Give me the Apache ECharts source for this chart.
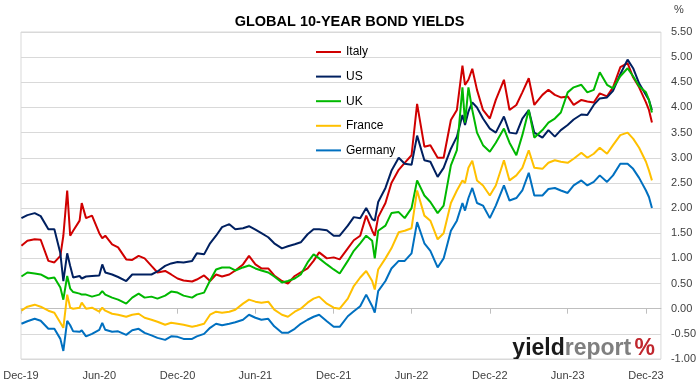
<!DOCTYPE html>
<html>
<head>
<meta charset="utf-8">
<script src="https://cdn.jsdelivr.net/npm/echarts@6/dist/echarts.min.js"></script>
<style>html,body{margin:0;padding:0;background:#fff;}#c{width:699px;height:384px;}</style>
</head>
<body>
<div id="c"></div>
<script>
const dates = [
  '2019-12-02','2019-12-16',
  '2020-01-02','2020-01-16','2020-02-03','2020-02-17','2020-03-02','2020-03-09','2020-03-18','2020-03-25',
  '2020-04-01','2020-04-16','2020-04-21','2020-05-01','2020-05-15','2020-06-01','2020-06-08','2020-06-15',
  '2020-07-01','2020-07-15','2020-08-03','2020-08-17','2020-09-01','2020-09-15','2020-10-01','2020-10-15',
  '2020-11-02','2020-11-16','2020-12-01','2020-12-15',
  '2021-01-04','2021-01-15','2021-02-01','2021-02-15','2021-03-01','2021-03-15','2021-04-01','2021-04-15',
  '2021-05-03','2021-05-17','2021-06-01','2021-06-15','2021-07-01','2021-07-15','2021-08-02','2021-08-16',
  '2021-09-01','2021-09-15','2021-10-01','2021-10-15','2021-10-28','2021-11-15','2021-12-01','2021-12-15',
  '2022-01-03','2022-01-17','2022-02-01','2022-02-15','2022-03-01','2022-03-07','2022-03-15','2022-04-01',
  '2022-04-15','2022-05-02','2022-05-16','2022-06-01','2022-06-14','2022-07-01','2022-07-15','2022-08-01',
  '2022-08-15','2022-09-01','2022-09-15','2022-09-28','2022-10-04','2022-10-12','2022-10-21','2022-11-01',
  '2022-11-15','2022-12-01','2022-12-15',
  '2023-01-03','2023-01-16','2023-02-01','2023-02-15','2023-03-02','2023-03-15','2023-04-03','2023-04-17',
  '2023-05-02','2023-05-16','2023-06-01','2023-06-15','2023-07-03','2023-07-17','2023-08-01','2023-08-15',
  '2023-09-01','2023-09-15','2023-10-02','2023-10-19','2023-11-01','2023-11-15','2023-12-01','2023-12-08',
  '2023-12-15'
];
const italy = [
  1.25,1.35,
  1.38,1.37,0.95,0.92,1.05,1.45,2.35,1.45,1.55,1.75,2.10,1.80,1.85,1.50,1.40,1.45,
  1.28,1.22,0.98,0.97,1.05,1.00,0.85,0.72,0.75,0.68,0.60,0.56,
  0.54,0.58,0.66,0.55,0.68,0.64,0.68,0.76,0.88,1.05,0.88,0.80,0.80,0.66,0.55,0.50,
  0.65,0.72,0.80,0.95,1.12,1.00,1.02,0.98,
  1.20,1.36,1.45,1.85,1.55,1.45,1.82,2.10,2.50,2.76,2.90,3.05,4.07,3.22,3.25,3.00,
  3.00,3.75,3.95,4.83,4.45,4.55,4.77,4.35,3.95,3.78,4.15,
  4.55,3.95,4.05,4.30,4.58,4.05,4.25,4.35,4.25,4.20,4.22,4.05,4.15,4.12,4.10,4.28,
  4.22,4.40,4.80,4.88,4.60,4.40,4.10,3.95,3.70
];
const us = [
  1.80,1.86,
  1.90,1.84,1.58,1.58,1.10,0.55,1.10,0.85,0.62,0.65,0.60,0.64,0.65,0.66,0.88,0.72,
  0.68,0.63,0.55,0.68,0.68,0.68,0.68,0.74,0.85,0.90,0.93,0.92,
  0.95,1.10,1.08,1.30,1.45,1.62,1.68,1.58,1.60,1.64,1.57,1.50,1.42,1.30,1.20,1.24,
  1.28,1.32,1.48,1.58,1.58,1.56,1.45,1.45,
  1.65,1.82,1.80,2.00,1.78,1.75,2.12,2.40,2.74,3.00,2.88,2.86,3.44,2.95,2.92,2.62,
  2.80,3.18,3.42,3.85,3.65,3.92,4.10,4.00,3.78,3.58,3.50,
  3.82,3.50,3.48,3.78,3.95,3.50,3.40,3.55,3.42,3.55,3.65,3.76,3.86,3.85,4.05,4.18,
  4.20,4.33,4.66,4.95,4.78,4.48,4.25,4.15,3.95
];
const uk = [
  0.64,0.72,
  0.70,0.68,0.60,0.62,0.42,0.18,0.65,0.40,0.33,0.30,0.28,0.28,0.24,0.28,0.35,0.28,
  0.22,0.18,0.10,0.22,0.30,0.22,0.24,0.20,0.26,0.34,0.32,0.26,
  0.22,0.28,0.32,0.56,0.78,0.82,0.82,0.76,0.82,0.86,0.80,0.76,0.72,0.64,0.52,0.55,
  0.60,0.68,0.92,1.08,1.00,0.88,0.78,0.70,
  0.95,1.15,1.30,1.45,1.35,1.00,1.55,1.65,1.90,1.92,1.80,2.00,2.55,2.25,2.12,1.90,
  2.05,2.85,3.15,4.40,3.70,4.40,3.95,3.50,3.25,3.12,3.30,
  3.58,3.30,3.05,3.45,3.95,3.40,3.55,3.70,3.78,3.90,4.30,4.40,4.45,4.30,4.35,4.70,
  4.45,4.38,4.62,4.78,4.62,4.42,4.30,4.15,3.90
];
const france = [
  -0.04,0.04,
  0.08,0.04,-0.04,-0.08,-0.28,-0.38,0.28,0.02,0.00,0.02,0.12,0.00,0.02,-0.06,0.02,-0.04,
  -0.10,-0.12,-0.16,-0.12,-0.10,-0.18,-0.22,-0.26,-0.32,-0.28,-0.30,-0.32,
  -0.36,-0.34,-0.30,-0.12,-0.06,-0.08,-0.06,-0.02,0.10,0.18,0.14,0.12,0.14,-0.02,-0.12,-0.16,
  -0.06,0.00,0.12,0.20,0.24,0.10,0.02,0.00,
  0.20,0.45,0.62,0.75,0.55,0.38,0.78,1.00,1.20,1.52,1.55,1.60,2.35,1.85,1.75,1.38,
  1.50,2.10,2.35,2.55,2.50,2.80,2.94,2.55,2.45,2.25,2.45,
  2.95,2.55,2.65,2.80,3.15,2.80,2.78,2.90,2.95,2.92,2.90,2.98,3.10,3.00,3.08,3.20,
  3.08,3.25,3.45,3.50,3.38,3.20,2.92,2.75,2.55
];
const germany = [
  -0.30,-0.25,
  -0.20,-0.24,-0.40,-0.40,-0.60,-0.84,-0.24,-0.33,-0.45,-0.46,-0.43,-0.55,-0.50,-0.42,-0.28,-0.42,
  -0.46,-0.45,-0.52,-0.43,-0.40,-0.48,-0.53,-0.58,-0.62,-0.55,-0.56,-0.60,
  -0.60,-0.55,-0.50,-0.38,-0.30,-0.33,-0.30,-0.27,-0.22,-0.12,-0.18,-0.22,-0.20,-0.35,-0.48,-0.48,
  -0.40,-0.30,-0.22,-0.16,-0.12,-0.25,-0.36,-0.36,
  -0.15,-0.05,0.05,0.28,0.05,-0.08,0.35,0.55,0.80,0.95,0.95,1.10,1.72,1.30,1.15,0.82,
  1.00,1.55,1.75,2.10,1.95,2.20,2.40,2.10,2.05,1.80,2.05,
  2.45,2.15,2.20,2.35,2.70,2.25,2.25,2.38,2.40,2.35,2.30,2.45,2.55,2.45,2.52,2.65,
  2.52,2.65,2.88,2.88,2.78,2.60,2.35,2.22,2.00
];
const seriesNames = ['Italy','US','UK','France','Germany'];
const seriesColors = ['#D00000','#002060','#00B800','#FFC000','#0070C0'];
const tickDates = ['2019-12-01','2020-06-01','2020-12-01','2021-06-01','2021-12-01','2022-06-01','2022-12-01','2023-06-01','2023-12-01'];
const months = ['Jan','Feb','Mar','Apr','May','Jun','Jul','Aug','Sep','Oct','Nov','Dec'];

const allData = [italy, us, uk, france, germany];
const toTs = d => +new Date(d + 'T00:00:00Z');
const tickTs = tickDates.map(toTs);

const chart = echarts.init(document.getElementById('c'), null, {renderer: 'canvas'});
const fontFam = '"Liberation Sans", Arial, sans-serif';
chart.setOption({
  animation: false,
  backgroundColor: '#ffffff',
  title: {
    text: 'GLOBAL 10-YEAR BOND YIELDS',
    left: 'center', top: 9,
    textStyle: {fontFamily: fontFam, fontWeight: 'bold', fontSize: 14.5, color: '#000'}
  },
  legend: {
    orient: 'vertical', left: 316, top: 45, padding: 0,
    icon: 'rect', itemWidth: 25, itemHeight: 2,
    itemGap: 10.6,
    textStyle: {fontFamily: fontFam, fontSize: 12, lineHeight: 14, height: 14, color: '#000'},
    data: seriesNames
  },
  grid: {left: 21, right: 38, top: 32, bottom: 25, show: true, borderColor: '#d9d9d9', borderWidth: 1},
  xAxis: {
    type: 'value',
    min: toTs('2019-12-01'), max: toTs('2024-01-05'),
    axisLine: {show: true, lineStyle: {color: '#bfbfbf'}},
    axisTick: {show: true, customValues: tickTs, length: 5, lineStyle: {color: '#bfbfbf'}},
    axisLabel: {
      customValues: tickTs, margin: 11,
      fontFamily: fontFam, fontSize: 11, color: '#404040',
      formatter: v => { const d = new Date(v); return months[d.getUTCMonth()] + '-' + String(d.getUTCFullYear()).slice(2); }
    },
    splitLine: {show: false}
  },
  yAxis: {
    type: 'value', position: 'right',
    min: -1, max: 5.5, interval: 0.5,
    axisLine: {show: false}, axisTick: {show: false},
    axisLabel: {margin: 10, fontFamily: fontFam, fontSize: 11, color: '#404040', formatter: v => v.toFixed(2)},
    splitLine: {lineStyle: {color: '#d9d9d9', width: 1}}
  },
  graphic: [
    {type: 'text', left: 674, top: 4, style: {text: '%', font: '11px ' + fontFam, fill: '#404040'}},
    {type: 'text', right: 44, top: 337, style: {
      text: '{a|yield}{b|report} {c|%}',
      rich: {
        a: {font: 'bold 23px ' + fontFam, fill: '#1a1a1a'},
        b: {font: 'bold 23px ' + fontFam, fill: '#7f7f7f'},
        c: {font: 'bold 23px ' + fontFam, fill: '#c0262d'}
      }
    }}
  ],
  series: seriesNames.map((name, k) => ({
    name, type: 'line', symbol: 'none', smooth: false,
    lineStyle: {width: 2, color: seriesColors[k]},
    itemStyle: {color: seriesColors[k]},
    data: dates.map((d, i) => [toTs(d), allData[k][i]])
  }))
});
</script>
</body>
</html>
